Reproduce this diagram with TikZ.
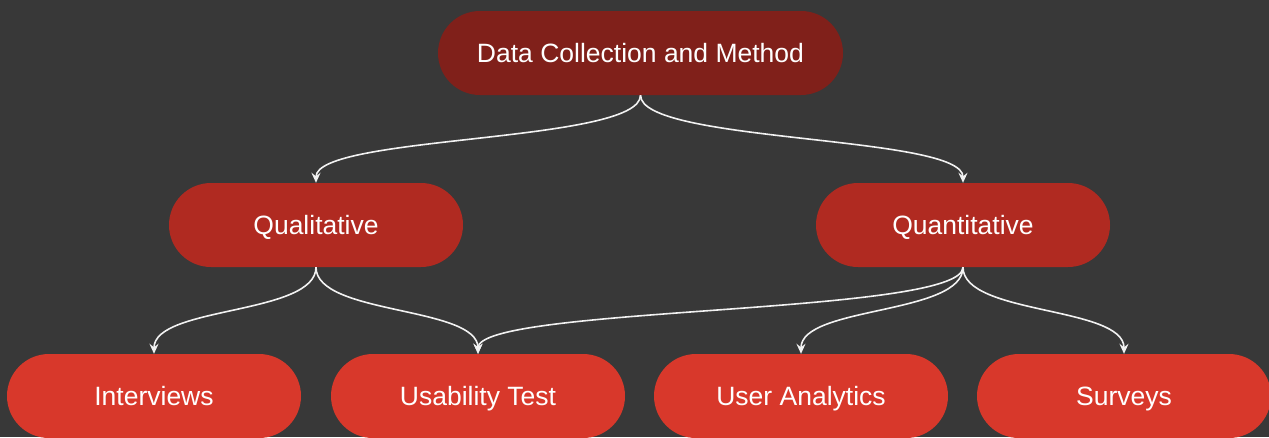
\documentclass[tikz,border=0pt]{standalone}
\usepackage{fontspec}
\setmainfont{Liberation Sans}
\usetikzlibrary{arrows.meta}
\definecolor{bgcol}{HTML}{383838}
\definecolor{rootcol}{HTML}{80201A}
\definecolor{midcol}{HTML}{B02A21}
\definecolor{leafcol}{HTML}{D8382B}
\definecolor{linecol}{HTML}{F2F2F2}
\tikzset{
  pill/.style={rounded corners=42pt, minimum height=84pt, inner sep=0pt,
    text height=24pt, text depth=4.5pt,
    text=white, font=\fontsize{26.5}{30}\selectfont},
  rootbox/.style={pill, fill=rootcol, minimum width=405pt},
  midbox/.style={pill, fill=midcol, minimum width=294pt},
  leafbox/.style={pill, fill=leafcol, minimum width=294pt},
  edge/.style={draw=linecol, line width=1.6pt,
    -{Stealth[length=10pt, width=9pt, inset=3.5pt]}},
}
\begin{document}
\begin{tikzpicture}[x=1pt, y=-1pt]
  \fill[bgcol] (0,0) rectangle (1269,437);
  \useasboundingbox (0,0) rectangle (1269,437);
  \clip (0,0) rectangle (1269,437);

  % tree nodes
  \node[rootbox] (root) at (640.5,53) {Data Collection and Method};
  \node[midbox] (qual) at (316,225) {Qualitative};
  \node[midbox] (quant) at (963,225) {Quantitative};
  \node[leafbox] (intv) at (154,396) {Interviews};
  \node[leafbox] (usab) at (478,396) {Usability Test};
  \node[leafbox] (anal) at (801,396) {User Analytics};
  \node[leafbox] (surv) at (1124,396) {Surveys};

  % connectors
  \draw[edge] (root.south) .. controls +(0,48) and +(0,-48) .. (qual.north);
  \draw[edge] (root.south) .. controls +(0,48) and +(0,-48) .. (quant.north);
  \draw[edge] (qual.south) .. controls +(0,48) and +(0,-48) .. (intv.north);
  \draw[edge] (qual.south) .. controls +(0,48) and +(0,-48) .. (usab.north);
  \draw[edge] (quant.south) .. controls +(0,48) and +(0,-48) .. (usab.north);
  \draw[edge] (quant.south) .. controls +(0,48) and +(0,-48) .. (anal.north);
  \draw[edge] (quant.south) .. controls +(0,48) and +(0,-48) .. (surv.north);
\end{tikzpicture}
\end{document}
